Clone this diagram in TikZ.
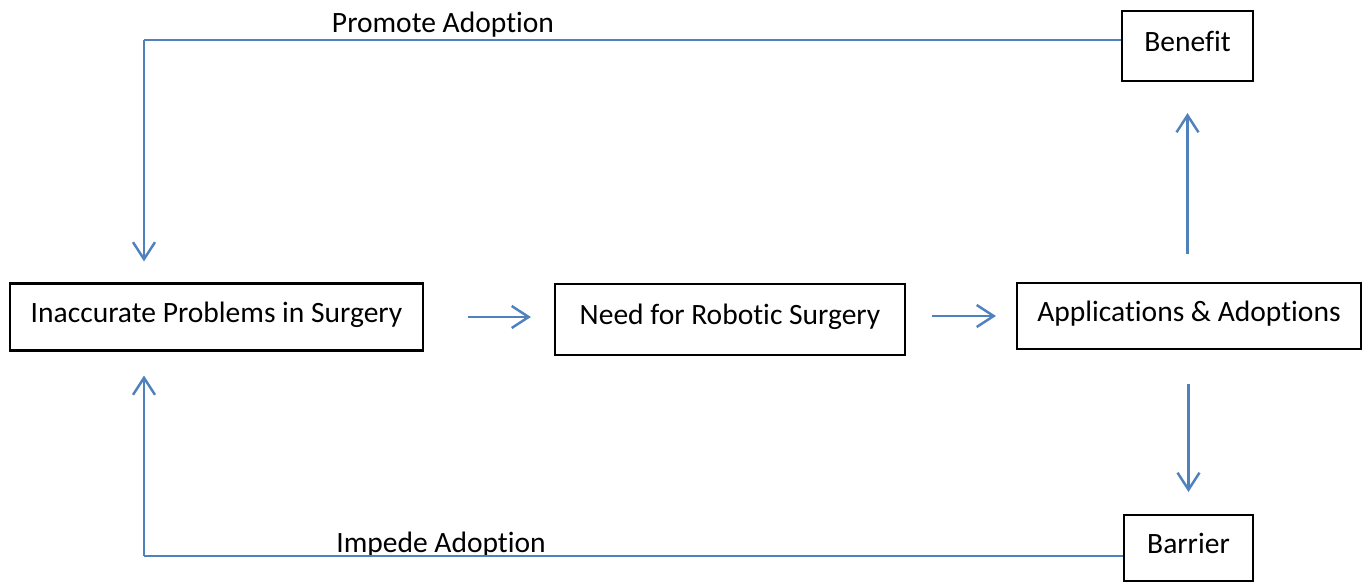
\documentclass[tikz,border=0pt]{standalone}
\usepackage{fontspec}
\setmainfont{Carlito}[RawFeature=-liga]
\usetikzlibrary{arrows.meta,calc}
\definecolor{linkblue}{RGB}{79,129,189}
\begin{document}
\begin{tikzpicture}[
		font=\fontsize{16.8}{20}\selectfont,
		arrow/.style={-{Straight Barb[length=0.34cm,width=0.44cm]}, linkblue, line width=1.4pt},
		link/.style={linkblue, line width=1.4pt},
		block/.style={rectangle, draw, line width=1.2pt, inner sep=0pt,
			text height=0.45cm, text depth=0.25cm, align=center}
		]
		\useasboundingbox (0,0) rectangle (27.3,-11.66);
		
		% ---- Middle row ----
		\node[block, minimum width=8.26cm, minimum height=1.34cm] (inacc) at (4.33, -6.34) {Inaccurate Problems in Surgery};
		\node[block, minimum width=7.0cm, minimum height=1.42cm] (need) at (14.6, -6.39) {Need for Robotic Surgery};
		\node[block, minimum width=6.88cm, minimum height=1.32cm] (apps) at (23.78, -6.32) {Applications \& Adoptions};
		
		% ---- Right column ----
		\node[block, minimum width=2.62cm, minimum height=1.4cm] (benefit) at (23.75, -0.92) {Benefit};
		\node[block, minimum width=2.58cm, minimum height=1.32cm] (barrier) at (23.77, -10.96) {Barrier};
		
		% ---- Loop labels ----
		\node[anchor=base] (promote) at (8.86, -0.64) {Promote Adoption};
		\node[anchor=base] (impede) at (8.82, -11.04) {Impede Adoption};
		
		% ---- Loop corners ----
		\coordinate (ptop) at (2.88, -0.80);
		\coordinate (pbot) at (2.88, -11.12);
		
		% ---- Arrows ----
		\draw[arrow, shorten <=0.88cm, shorten >=0.46cm] (inacc.east) -- (inacc.east -| need.west);
		\draw[arrow, shorten <=0.52cm, shorten >=0.40cm] (apps.west -| need.east) -- (apps.west);
		\draw[arrow, shorten <=0.56cm, shorten >=0.62cm] (apps.north -| benefit) -- (benefit.south);
		\draw[arrow, shorten <=0.68cm, shorten >=0.44cm] (apps.south -| barrier) -- (barrier.north);
		
		% Benefit -> back to problems
		\draw[link] (benefit.west |- ptop) -- (ptop);
		\draw[arrow, shorten >=0.42cm] (ptop) -- (ptop |- inacc.north);
		
		% Barrier -> back to problems
		\draw[link] (barrier.west |- pbot) -- (pbot);
		\draw[arrow, shorten >=0.48cm] (pbot) -- (pbot |- inacc.south);
	\end{tikzpicture}
\end{document}
